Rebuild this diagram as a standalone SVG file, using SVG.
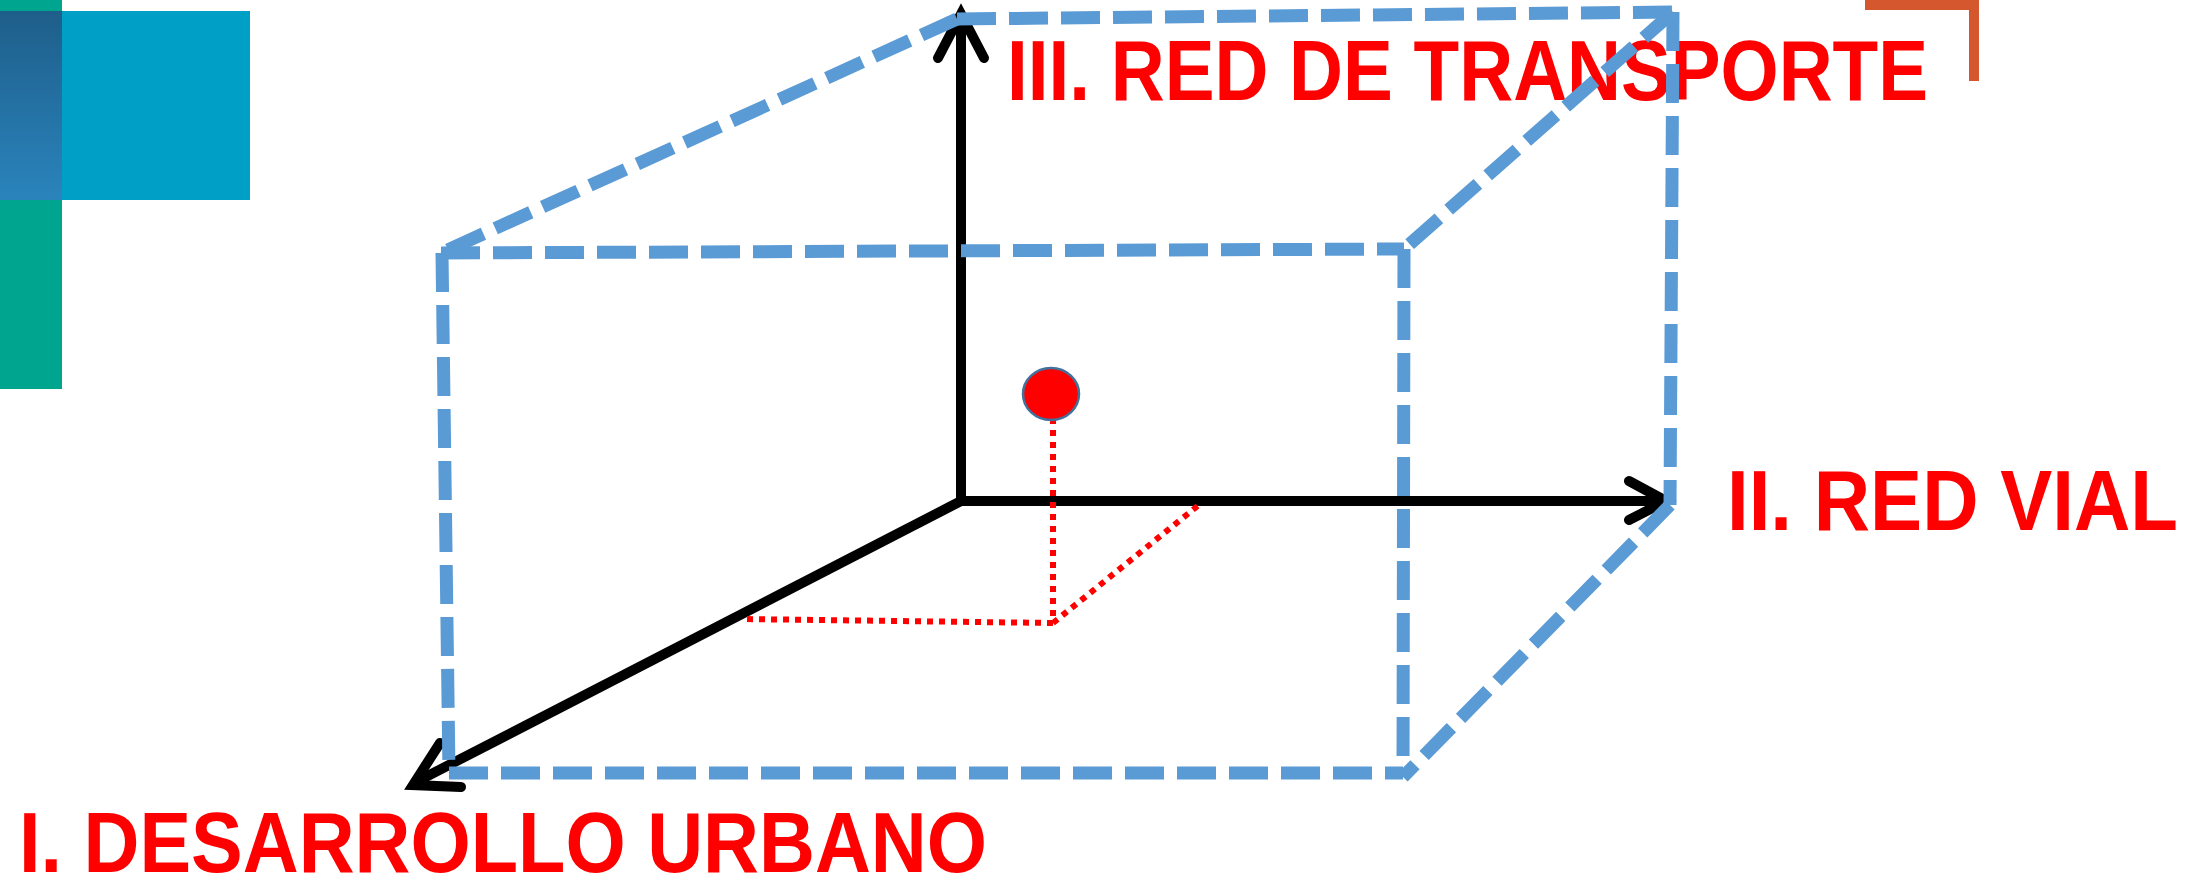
<svg xmlns="http://www.w3.org/2000/svg" width="2202" height="878" viewBox="0 0 2202 878">
<defs>
<linearGradient id="gstrip" x1="0" y1="0" x2="0" y2="1">
<stop offset="0" stop-color="#1E5E8A"/>
<stop offset="1" stop-color="#2A84BC"/>
</linearGradient>
</defs>
<style>
.box{stroke:#5B9BD5;stroke-width:13;stroke-dasharray:39 13;fill:none;stroke-linecap:butt}
.axis{stroke:#000;stroke-width:10;fill:none;stroke-linecap:butt}
.head{stroke:#000;stroke-width:10;fill:none;stroke-linecap:round;stroke-linejoin:miter}
.dot{stroke:#FF0000;stroke-width:6;stroke-dasharray:6 6;fill:none}
.lbl{font-family:"Liberation Sans",Arial,sans-serif;font-weight:bold;font-size:85px;fill:#FF0000}
</style>
<rect width="2202" height="878" fill="#FFFFFF"/>
<g id="decor">
<rect x="0" y="0" width="62" height="389" fill="#00A58F"/>
<rect x="62" y="11" width="188" height="189" fill="#00A0C6"/>
<rect x="0" y="11" width="62" height="189" fill="url(#gstrip)"/>
<path d="M1865,5 H1974 V81" stroke="#D4572E" stroke-width="10" fill="none"/>
</g>
<g id="label-transporte"><text class="lbl" x="1007" y="100" textLength="921" lengthAdjust="spacingAndGlyphs">III. RED DE TRANSPORTE</text></g>
<g id="label-vial"><text class="lbl" x="1727" y="530" textLength="451" lengthAdjust="spacingAndGlyphs">II. RED VIAL</text></g>
<g id="label-urbano"><text class="lbl" x="19" y="872" textLength="968" lengthAdjust="spacingAndGlyphs">I. DESARROLLO URBANO</text></g>
<g id="connectors">
<line class="axis" x1="961" y1="506" x2="961" y2="16"/>
<line class="axis" x1="956" y1="501" x2="1665" y2="501"/>
<line class="axis" x1="963" y1="500" x2="414" y2="783"/>
<polyline class="head" points="938,58 961,14 984,58"/>
<polyline class="head" points="1629,481 1666,501 1629,520"/>
<polyline class="head" points="440,743 413,785 461,787"/>
<line class="dot" x1="1053" y1="418" x2="1053" y2="623"/>
<line class="dot" x1="1053" y1="623" x2="741" y2="619"/>
<line class="dot" x1="1053" y1="623" x2="1200" y2="504"/>
<line class="box" x1="957" y1="19" x2="1673" y2="12"/>
<line class="box" x1="957" y1="19" x2="441" y2="253"/>
<line class="box" x1="1673" y1="12" x2="1404" y2="249"/>
<line class="box" x1="441" y1="253" x2="1404" y2="249"/>
<line class="box" x1="442" y1="253" x2="449" y2="773"/>
<line class="box" x1="1404" y1="249" x2="1403" y2="777"/>
<line class="box" x1="449" y1="773" x2="1403" y2="773"/>
<line class="box" x1="1673" y1="12" x2="1670" y2="505"/>
<line class="box" x1="1670" y1="505" x2="1403" y2="777"/>
</g>
<g id="point"><ellipse cx="1051" cy="394" rx="28" ry="26" fill="#FF0000" stroke="#41719C" stroke-width="2.5"/></g>
</svg>
